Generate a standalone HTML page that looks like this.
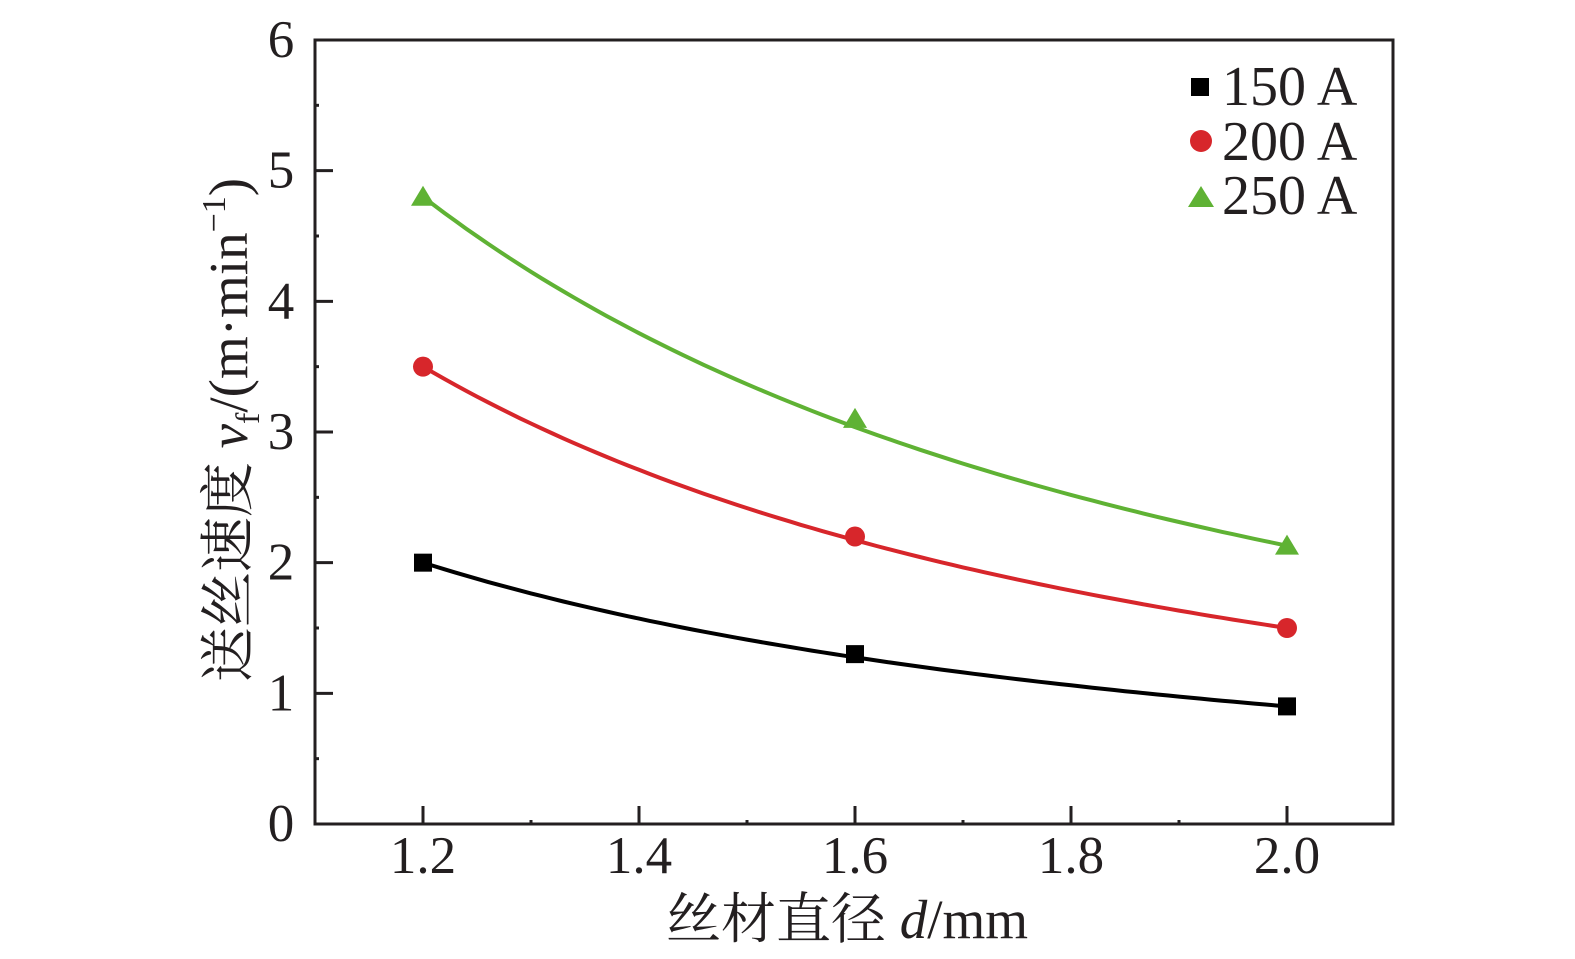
<!DOCTYPE html>
<html><head><meta charset="utf-8"><style>
html,body{margin:0;padding:0;background:#fff;}
svg{display:block;}
text{font-family:"Liberation Serif","Noto Serif CJK SC",serif;fill:#231f20;}
</style></head><body>
<svg id="s" width="1575" height="959" viewBox="0 0 1575 959" xmlns="http://www.w3.org/2000/svg">
<rect x="315" y="40" width="1078" height="784" fill="none" stroke="#231f20" stroke-width="3"/>
<g id="ticks" stroke="#231f20" stroke-width="3"></g>
<g id="labels" font-size="53" text-anchor="middle"></g>
<g id="curves" fill="none" stroke-width="4"></g>
<g id="marks"></g>
<text x="847" y="938" font-size="55" text-anchor="middle">丝材直径 <tspan font-style="italic">d</tspan>/mm</text>
<text transform="translate(247,430) rotate(-90)" font-size="55" text-anchor="middle">送丝速度 <tspan font-style="italic">v</tspan><tspan font-size="34" dy="12">f</tspan><tspan dy="-12">/(m·min</tspan><tspan font-size="34" dy="-22">−1</tspan><tspan dy="22">)</tspan></text>
<rect x="1191" y="78" width="18" height="18" fill="#000"/>
<text x="1222" y="105" font-size="56">150 A</text>
<circle cx="1201" cy="141" r="11" fill="#d7262b"/>
<text x="1222" y="160" font-size="56">200 A</text>
<polygon points="1188,207 1214,207 1201,186" fill="#5fb234"/>
<text x="1222" y="214" font-size="56">250 A</text>
</svg>
<script>
var NS="http://www.w3.org/2000/svg";
function X(v){return 423+(v-1.2)*1080;}
function Y(v){return 824-v*130.67;}
function el(p,t,a,txt){var e=document.createElementNS(NS,t);for(var k in a)e.setAttribute(k,a[k]);if(txt!=null)e.textContent=txt;document.getElementById(p).appendChild(e);return e;}
for(var i=0;i<=6;i++){var y=Y(i);if(i>0&&i<6)el("ticks","line",{x1:315,x2:333,y1:y,y2:y});
 if(i<6){var ym=Y(i+0.5);el("ticks","line",{x1:315,x2:319,y1:ym,y2:ym});}
 el("labels","text",{x:281,y:y+17},String(i));}
[1.2,1.4,1.6,1.8,2.0].forEach(function(v){var x=X(v);el("ticks","line",{x1:x,x2:x,y1:824,y2:806});el("labels","text",{x:x,y:873},v.toFixed(1));});
[1.3,1.5,1.7,1.9].forEach(function(v){var x=X(v);el("ticks","line",{x1:x,x2:x,y1:824,y2:820});});
var S=[{c:"#000",d:[2.0,1.3,0.9],m:"sq"},{c:"#d7262b",d:[3.5,2.2,1.5],m:"ci"},{c:"#5fb234",d:[4.8,3.1,2.13],m:"tr"}];
S.forEach(function(s){var a=s.d[0],b=Math.log(s.d[2]/a)/Math.log(2/1.2);var p="";
 for(var k=0;k<=80;k++){var x=1.2+0.8*k/80;var y=a*Math.pow(x/1.2,b);p+=(k?"L":"M")+X(x).toFixed(1)+","+Y(y).toFixed(1);}
 el("curves","path",{d:p,stroke:s.c});
 [1.2,1.6,2.0].forEach(function(x,i){var cx=X(x),cy=Y(s.d[i]);
  if(s.m=="sq")el("marks","rect",{x:cx-9,y:cy-9,width:18,height:18,fill:s.c});
  else if(s.m=="ci")el("marks","circle",{cx:cx,cy:cy,r:10,fill:s.c});
  else el("marks","polygon",{points:(cx-12)+","+(cy+9)+" "+(cx+12)+","+(cy+9)+" "+cx+","+(cy-11),fill:s.c});});});
</script>
</body></html>
